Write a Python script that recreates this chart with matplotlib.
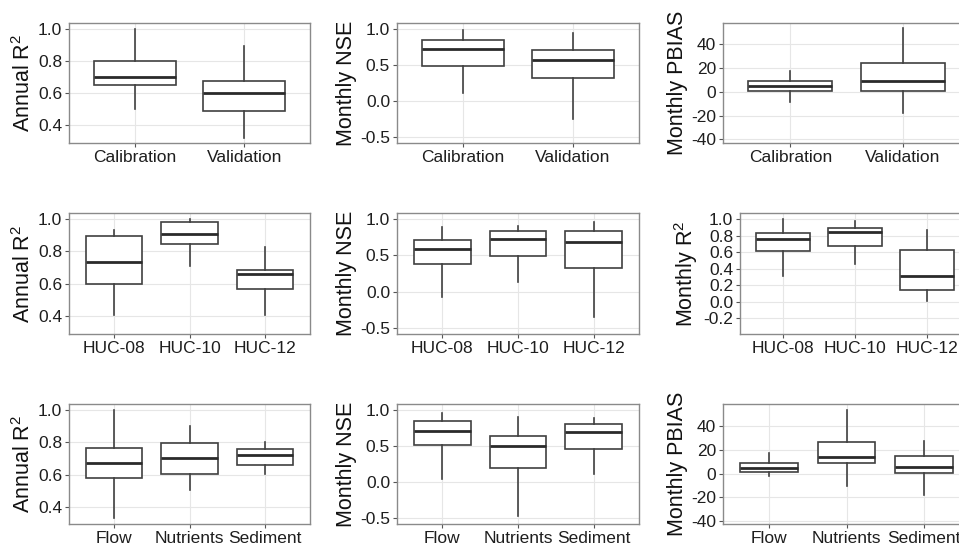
import matplotlib
matplotlib.use('Agg')
import matplotlib.pyplot as plt

plt.rcParams['font.family'] = ['Liberation Sans', 'DejaVu Sans']
plt.rcParams['mathtext.fontset'] = 'custom'
plt.rcParams['mathtext.rm'] = 'Liberation Sans'
plt.rcParams['mathtext.it'] = 'Liberation Sans'

# category labels
cats_period = ['Calibration', 'Validation']
cats_huc = ['HUC-08', 'HUC-10', 'HUC-12']
cats_var = ['Flow', 'Nutrients', 'Sediment']

# box statistics per category: [whisker low, q1, median, q3, whisker high]
annual_r2_period = [[0.50, 0.645, 0.70, 0.80, 1.00],
                    [0.32, 0.485, 0.60, 0.675, 0.89]]
monthly_nse_period = [[0.11, 0.49, 0.72, 0.85, 0.98],
                      [-0.25, 0.315, 0.565, 0.71, 0.94]]
monthly_pbias_period = [[-8.8, 0.5, 4.9, 9.1, 17.8],
                        [-18.0, 0.5, 9.1, 24.0, 53.5]]

annual_r2_huc = [[0.404, 0.60, 0.732, 0.896, 0.933],
                 [0.709, 0.846, 0.908, 0.981, 1.00],
                 [0.404, 0.564, 0.657, 0.682, 0.83]]
monthly_nse_huc = [[-0.065, 0.381, 0.591, 0.706, 0.885],
                   [0.142, 0.495, 0.729, 0.843, 0.908],
                   [-0.35, 0.326, 0.684, 0.83, 0.967]]
monthly_r2_huc = [[0.316, 0.616, 0.765, 0.838, 1.00],
                  [0.455, 0.68, 0.85, 0.898, 0.976],
                  [0.013, 0.143, 0.316, 0.628, 0.87]]

annual_r2_var = [[0.333, 0.581, 0.671, 0.764, 1.00],
                 [0.505, 0.602, 0.706, 0.799, 0.902],
                 [0.602, 0.66, 0.722, 0.758, 0.80]]
monthly_nse_var = [[0.041, 0.513, 0.711, 0.843, 0.959],
                   [-0.468, 0.188, 0.50, 0.633, 0.908],
                   [0.11, 0.454, 0.70, 0.807, 0.89]]
monthly_pbias_var = [[-1.9, 1.5, 4.3, 8.6, 17.0],
                     [-10.9, 8.6, 13.7, 26.4, 54.0],
                     [-18.0, 0.1, 5.2, 14.8, 27.2]]

W, H = 959, 546
fig = plt.figure(figsize=(W / 100, H / 100), dpi=100)

def make_axes(left, top, right, bottom):
    return fig.add_axes([left / W, 1 - bottom / H, (right - left) / W, (bottom - top) / H])

def boxpanel(ax, cats, stats, ylabel, ylim, yticks, fmt):
    bxp = []
    for s in stats:
        bxp.append(dict(whislo=s[0], q1=s[1], med=s[2], q3=s[3], whishi=s[4], fliers=[]))
    ax.bxp(bxp, positions=range(1, len(cats) + 1), widths=0.75, showcaps=False,
           showfliers=False, patch_artist=True,
           boxprops=dict(facecolor='white', edgecolor='#404040', linewidth=1.2),
           whiskerprops=dict(color='#404040', linewidth=1.2),
           medianprops=dict(color='#2a2a2a', linewidth=2.0),
           zorder=3)
    ax.set_xlim(0.4, len(cats) + 0.6)
    ax.set_ylim(*ylim)
    ax.set_yticks(yticks)
    ax.set_yticklabels([fmt.format(v) for v in yticks])
    ax.set_xticks(range(1, len(cats) + 1))
    ax.set_xticklabels(cats)
    ax.grid(True, color='#e6e6e6', linewidth=0.8, zorder=0)
    ax.set_axisbelow(True)
    for sp in ax.spines.values():
        sp.set_color('#8a8a8a')
        sp.set_linewidth(1.0)
    ax.tick_params(axis='both', length=3, width=0.8, color='#555555', pad=2,
                   labelsize=12.5, labelcolor='#1e1e1e')
    ax.set_ylabel(ylabel, fontsize=15.5, labelpad=2, color='#111111')

r2_label = r'Annual R$^{2}$'
rows = [(23, 143), (213.3, 334), (404.3, 523.7)]

ax = make_axes(69, rows[0][0], 310, rows[0][1])
boxpanel(ax, cats_period, annual_r2_period, r2_label, (0.286, 1.035), [0.4, 0.6, 0.8, 1.0], '{:.1f}')
ax = make_axes(397, rows[0][0], 639, rows[0][1])
boxpanel(ax, cats_period, monthly_nse_period, 'Monthly NSE', (-0.58, 1.08), [-0.5, 0.0, 0.5, 1.0], '{:.1f}')
ax = make_axes(723, rows[0][0], 970, rows[0][1])
boxpanel(ax, cats_period, monthly_pbias_period, 'Monthly PBIAS', (-43.1, 57.9), [-40, -20, 0, 20, 40], '{:d}')

ax = make_axes(69, rows[1][0], 310, rows[1][1])
boxpanel(ax, cats_huc, annual_r2_huc, r2_label, (0.286, 1.037), [0.4, 0.6, 0.8, 1.0], '{:.1f}')
ax = make_axes(397, rows[1][0], 639, rows[1][1])
boxpanel(ax, cats_huc, monthly_nse_huc, 'Monthly NSE', (-0.58, 1.08), [-0.5, 0.0, 0.5, 1.0], '{:.1f}')
ax = make_axes(740, rows[1][0], 970, rows[1][1])
boxpanel(ax, cats_huc, monthly_r2_huc, r'Monthly R$^{2}$', (-0.39, 1.073),
         [-0.2, 0.0, 0.2, 0.4, 0.6, 0.8, 1.0], '{:.1f}')

ax = make_axes(69, rows[2][0], 310, rows[2][1])
boxpanel(ax, cats_var, annual_r2_var, r2_label, (0.296, 1.037), [0.4, 0.6, 0.8, 1.0], '{:.1f}')
ax = make_axes(397, rows[2][0], 639, rows[2][1])
boxpanel(ax, cats_var, monthly_nse_var, 'Monthly NSE', (-0.58, 1.08), [-0.5, 0.0, 0.5, 1.0], '{:.1f}')
ax = make_axes(723, rows[2][0], 970, rows[2][1])
boxpanel(ax, cats_var, monthly_pbias_var, 'Monthly PBIAS', (-42.3, 58.4), [-40, -20, 0, 20, 40], '{:d}')

fig.savefig('out.png', dpi=100)
